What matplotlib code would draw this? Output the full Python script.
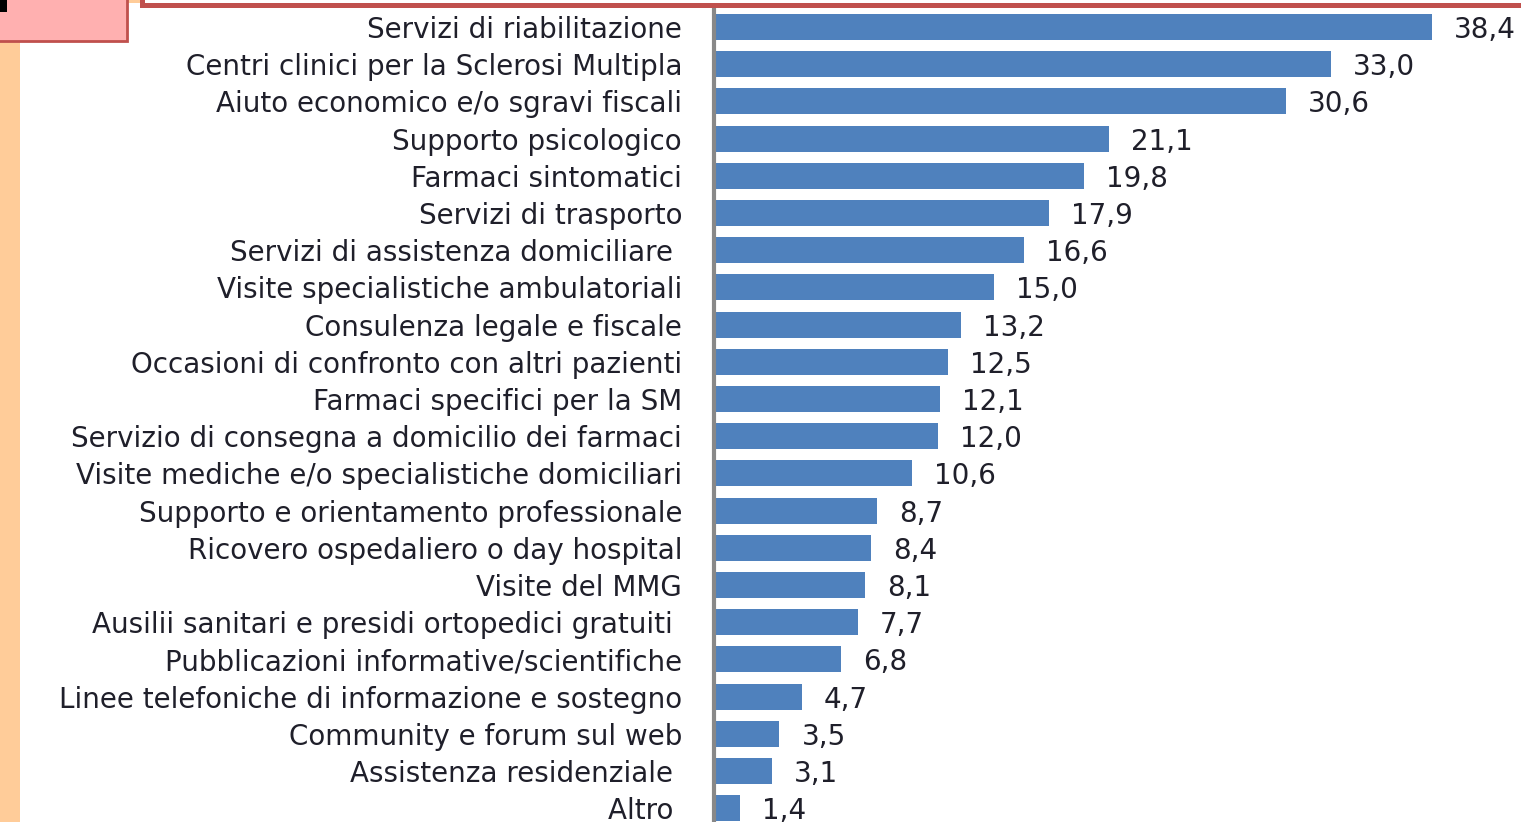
import numpy as np
import matplotlib.pyplot as plt
from matplotlib.patches import Rectangle

labels = [
    "Servizi di riabilitazione",
    "Centri clinici per la Sclerosi Multipla",
    "Aiuto economico e/o sgravi fiscali",
    "Supporto psicologico",
    "Farmaci sintomatici",
    "Servizi di trasporto",
    "Servizi di assistenza domiciliare ",
    "Visite specialistiche ambulatoriali",
    "Consulenza legale e fiscale",
    "Occasioni di confronto con altri pazienti",
    "Farmaci specifici per la SM",
    "Servizio di consegna a domicilio dei farmaci",
    "Visite mediche e/o specialistiche domiciliari",
    "Supporto e orientamento professionale",
    "Ricovero ospedaliero o day hospital",
    "Visite del MMG",
    "Ausilii sanitari e presidi ortopedici gratuiti ",
    "Pubblicazioni informative/scientifiche",
    "Linee telefoniche di informazione e sostegno",
    "Community e forum sul web",
    "Assistenza residenziale ",
    "Altro ",
]
values = [38.4, 33.0, 30.6, 21.1, 19.8, 17.9, 16.6, 15.0, 13.2, 12.5, 12.1,
          12.0, 10.6, 8.7, 8.4, 8.1, 7.7, 6.8, 4.7, 3.5, 3.1, 1.4]

W, H = 1521, 822
fig = plt.figure(figsize=(W / 100, H / 100), dpi=100)
fig.patch.set_facecolor("white")

plt.rcParams["font.family"] = ["DejaVu Sans"]
txt_col = "#1f1f2a"
fs = 20


def fx(px):
    return px / W


def fy(py):
    return 1 - py / H


# decorations from the slide
fig.add_artist(Rectangle((0, 0), fx(20), 1, transform=fig.transFigure,
                         color="#FFCC99", lw=0))
fig.add_artist(Rectangle((fx(127), fy(3)), fx(14), 3 / H, transform=fig.transFigure,
                         color="#FFCC99", lw=0))
fig.add_artist(Rectangle((fx(-2), fy(41)), fx(129), 43 / H, transform=fig.transFigure,
                         facecolor="#FFB0B0", edgecolor="#C0504D", lw=2))
fig.add_artist(Rectangle((0, fy(12)), fx(7), 12 / H, transform=fig.transFigure,
                         color="black", lw=0))
fig.add_artist(Rectangle((fx(140), fy(8)), fx(1400), 5 / H, transform=fig.transFigure,
                         color="#C0504D", lw=0))
fig.add_artist(Rectangle((fx(140), fy(8)), fx(5), 8 / H, transform=fig.transFigure,
                         color="#C0504D", lw=0))

ax = fig.add_axes([fx(714), 0, fx(W - 714), 1])
ax.set_facecolor("none")

y = np.arange(len(labels))
step = 37.2
ax.barh(y, values, height=26 / step, color="#4F81BD")

px_per_unit = (1432 - 714) / 38.4
ax.set_xlim(0, (W - 714) / px_per_unit)
ax.set_ylim((H - 27) / step, -27 / step)

for yi, v in zip(y, values):
    ax.text(v + 22 / px_per_unit, yi, f"{v:.1f}".replace(".", ","),
            va="center_baseline", ha="left", fontsize=fs, color=txt_col)

ax.set_yticks(y)
ax.set_yticklabels(labels, fontsize=fs, color=txt_col)
ax.tick_params(axis="y", length=0, pad=23)
ax.set_xticks([])
for s in ["top", "right", "bottom"]:
    ax.spines[s].set_visible(False)
ax.spines["left"].set_color("#888888")
ax.spines["left"].set_linewidth(3)
ax.spines["left"].set_bounds((H - 27) / step, (9 - 27) / step)

plt.savefig("out.png", dpi=100)
